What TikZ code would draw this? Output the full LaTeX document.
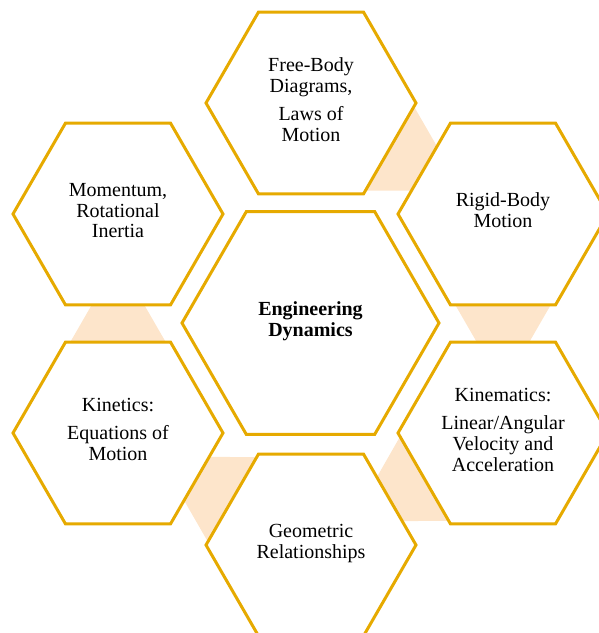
\documentclass[tikz,border=0pt]{standalone}
\usepackage{fontspec}
\setmainfont{Liberation Serif}
\usetikzlibrary{calc}
\definecolor{hexline}{RGB}{230,170,0}
\definecolor{bandcol}{RGB}{253,229,203}
\tikzset{
  hexstyle/.style={draw=hexline, line width=2.25pt, fill=white},
  bandstyle/.style={fill=bandcol, draw=none},
  txt/.style={align=center, inner sep=0pt, text=black,
    font=\fontsize{15pt}{15.6pt}\selectfont},
  boldtxt/.style={txt, font=\fontsize{15pt}{15.6pt}\selectfont\bfseries}
}
% hexagon around a named centre, radius in px units
\newcommand\hexdraw[2]{\draw[hexstyle] ($(#1)+(0:#2)$) -- ($(#1)+(60:#2)$) -- ($(#1)+(120:#2)$) -- ($(#1)+(180:#2)$) -- ($(#1)+(240:#2)$) -- ($(#1)+(300:#2)$) -- cycle;}
% tapering band from hexagon #1 to hexagon #2
\newcommand\banddraw[2]{%
  \path ($(#1)!0.5!(#2)$) coordinate (bm);
  \path ($(bm)!41.25pt!(#1)$) coordinate (ba) ($(bm)!41.25pt!(#2)$) coordinate (bb);
  \fill[bandstyle] ($(ba)!51.56pt!90:(#2)$) -- ($(bb)!3.94pt!90:(#2)$) -- ($(bb)!3.94pt!-90:(#2)$) -- ($(ba)!51.56pt!-90:(#2)$) -- cycle;}
\begin{document}
\begin{tikzpicture}[x=0.75pt, y=-0.75pt]
\path[use as bounding box] (0,0) rectangle (599,633);
\clip (0,0) rectangle (599,633);
% centres
\coordinate (T)  at (311,103);
\coordinate (RB) at (503,214);
\coordinate (MO) at (118,214);
\coordinate (C)  at (310.5,323);
\coordinate (KI) at (118,433);
\coordinate (KM) at (503,433);
\coordinate (G)  at (311,545);
% connector bands
\banddraw{T}{RB}
\banddraw{RB}{KM}
\banddraw{KM}{G}
\banddraw{G}{KI}
\banddraw{KI}{MO}
% hexagons
\hexdraw{T}{105}
\hexdraw{RB}{105}
\hexdraw{MO}{105}
\hexdraw{C}{128.5}
\hexdraw{KI}{105}
\hexdraw{KM}{105}
\hexdraw{G}{105}
% labels
\node[txt] (tT) at ($(T)+(0,-1)$) {\strut Free-Body\\Diagrams,\\[5.6pt]Laws of\\Motion\strut};
\node[txt] (tRB) at ($(RB)+(0,-1)$) {\strut Rigid-Body\\Motion\strut};
\node[txt] (tMO) at ($(MO)+(0,-1)$) {\strut Momentum,\\Rotational\\Inertia\strut};
\node[boldtxt] (tC) at ($(C)+(0,-1)$) {\strut Engineering\\Dynamics\strut};
\node[txt] (tKI) at ($(KI)+(0,-1)$) {\strut Kinetics:\\[5.6pt]Equations of\\Motion\strut};
\node[txt] (tKM) at ($(KM)+(0,-1)$) {\strut Kinematics:\\[5.6pt]Linear/Angular\\Velocity and\\Acceleration\strut};
\node[txt] (tG) at ($(G)+(0,-1)$) {\strut Geometric\\Relationships\strut};
\end{tikzpicture}
\end{document}
